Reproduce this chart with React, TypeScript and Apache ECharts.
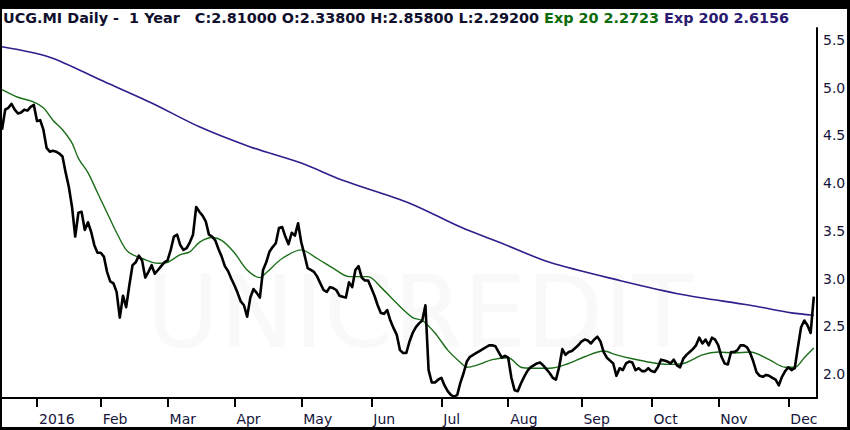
import React, { useEffect, useRef } from "react";
import * as echarts from "echarts";

// ---- categories: trading days (Borsa Italiana) ----
const START_DATE = "2015-12-14";
const CATEGORY_COUNT = 257;
const HOLIDAYS = ["2015-12-24", "2015-12-25", "2015-12-31", "2016-01-01", "2016-03-25", "2016-03-28"];
const MONTHS = ["Jan", "Feb", "Mar", "Apr", "May", "Jun", "Jul", "Aug", "Sep", "Oct", "Nov", "Dec"];

function buildDates(): string[] {
  const out: string[] = [];
  const d = new Date(START_DATE + "T00:00:00Z");
  while (out.length < CATEGORY_COUNT) {
    const s = d.toISOString().slice(0, 10);
    const wd = d.getUTCDay();
    if (wd !== 0 && wd !== 6 && HOLIDAYS.indexOf(s) < 0) out.push(s);
    d.setUTCDate(d.getUTCDate() + 1);
  }
  return out;
}
const dates = buildDates();

// ---- daily close ----
const closePrices = [
  4.56, 4.77, 4.79, 4.83, 4.77, 4.73, 4.74, 4.77, 4.76, 4.80,
  4.82, 4.65, 4.66, 4.56, 4.37, 4.33, 4.34, 4.33, 4.31, 4.28,
  4.11, 3.96, 3.75, 3.44, 3.69, 3.70, 3.51, 3.59, 3.49, 3.35,
  3.27, 3.27, 3.23, 3.07, 2.97, 2.95, 2.86, 2.59, 2.82, 2.70,
  2.93, 3.14, 3.17, 3.24, 3.19, 3.01, 3.07, 3.14, 3.05, 3.09,
  3.13, 3.17, 3.19, 3.30, 3.44, 3.46, 3.35, 3.30, 3.32, 3.38,
  3.46, 3.75, 3.70, 3.66, 3.60, 3.46, 3.44, 3.40, 3.31, 3.23,
  3.13, 3.08, 3.00, 2.93, 2.85, 2.76, 2.72, 2.60, 2.80, 2.89,
  2.85, 2.80, 3.09, 3.17, 3.28, 3.33, 3.37, 3.53, 3.54, 3.44,
  3.36, 3.48, 3.45, 3.58, 3.38, 3.25, 3.11, 3.09, 3.07, 3.02,
  2.95, 2.88, 2.86, 2.91, 2.90, 2.88, 2.82, 2.81, 2.80, 2.96,
  2.91, 3.09, 3.13, 3.01, 2.98, 2.98, 2.90, 2.82, 2.72, 2.64,
  2.63, 2.67, 2.56, 2.48, 2.41, 2.25, 2.22, 2.22, 2.34, 2.43,
  2.49, 2.53, 2.56, 2.72, 2.04, 1.91, 1.91, 1.94, 1.96, 1.88,
  1.82, 1.78, 1.76, 1.78, 1.91, 2.01, 2.13, 2.18, 2.20, 2.22,
  2.24, 2.26, 2.28, 2.30, 2.30, 2.29, 2.23, 2.17, 2.19, 2.17,
  1.96, 1.83, 1.82, 1.90, 1.97, 2.03, 2.07, 2.09, 2.11, 2.12,
  2.09, 2.05, 2.01, 1.96, 1.94, 2.07, 2.26, 2.20, 2.23, 2.24,
  2.27, 2.30, 2.34, 2.36, 2.35, 2.32, 2.36, 2.39, 2.34, 2.23,
  2.17, 2.14, 2.11, 1.98, 2.06, 2.04, 2.11, 2.13, 2.12, 2.04,
  2.06, 2.03, 2.03, 2.06, 2.03, 2.02, 2.07, 2.15, 2.14, 2.13,
  2.11, 2.15, 2.09, 2.07, 2.16, 2.20, 2.23, 2.26, 2.30, 2.38,
  2.32, 2.36, 2.30, 2.38, 2.36, 2.30, 2.18, 2.11, 2.10, 2.23,
  2.23, 2.25, 2.30, 2.30, 2.28, 2.22, 2.13, 2.02, 1.98, 1.97,
  1.99, 1.98, 1.96, 1.94, 1.88, 1.97, 2.03, 2.07, 2.04, 2.06,
  2.28, 2.49, 2.56, 2.51, 2.43, 2.81,
];

// ---- Exp 20 (read at vertices, by trading-day index) ----
const ema20Idx = [0, 5, 10, 13, 16, 19, 22, 24, 27, 30, 33, 36, 39, 41, 44, 49, 52, 56, 59, 62, 66, 69, 73, 77, 81, 83, 88, 94, 99, 104, 109, 115, 119, 124, 129, 132, 136, 140, 144, 146, 149, 154, 159, 163, 167, 172, 178, 183, 189, 193, 198, 204, 209, 214, 220, 225, 230, 235, 241, 246, 249, 252, 255];
const ema20Val = [4.98, 4.90, 4.85, 4.79, 4.66, 4.56, 4.42, 4.26, 4.11, 3.90, 3.69, 3.48, 3.30, 3.25, 3.21, 3.16, 3.17, 3.25, 3.28, 3.38, 3.43, 3.40, 3.27, 3.09, 3.01, 3.06, 3.21, 3.30, 3.21, 3.11, 3.02, 3.02, 2.91, 2.74, 2.59, 2.56, 2.43, 2.25, 2.12, 2.07, 2.09, 2.15, 2.17, 2.07, 2.06, 2.06, 2.11, 2.18, 2.24, 2.20, 2.16, 2.12, 2.10, 2.11, 2.20, 2.23, 2.22, 2.23, 2.15, 2.07, 2.07, 2.17, 2.2723];

// ---- Exp 200 ----
const ema200Idx = [0, 15, 31, 47, 62, 78, 94, 107, 128, 144, 157, 172, 194, 214, 235, 248, 255];
const ema200Val = [5.43, 5.32, 5.08, 4.84, 4.59, 4.38, 4.21, 4.03, 3.79, 3.54, 3.37, 3.17, 2.98, 2.83, 2.72, 2.64, 2.6156];

const yTicks = [2.0, 2.5, 3.0, 3.5, 4.0, 4.5, 5.0, 5.5];

const HEADER_MAIN = "UCG.MI Daily -  1 Year   C:2.81000 O:2.33800 H:2.85800 L:2.29200 ";
const HEADER_EXP20 = "Exp 20 2.2723 ";
const HEADER_EXP200 = "Exp 200 2.6156";

const FONT = "'DejaVu Sans', Verdana, sans-serif";

function isMonthStart(i: number): boolean {
  if (i <= 0 || i >= dates.length) return false;
  return dates[i].slice(5, 7) !== dates[i - 1].slice(5, 7);
}

export default function App() {
  const ref = useRef<HTMLDivElement>(null);
  useEffect(() => {
    document.body.style.margin = "0";
    if (!ref.current) return;
    const chart = echarts.init(ref.current, undefined, { renderer: "svg" });
    chart.setOption({
      animation: false,
      backgroundColor: "#ffffff",
      title: {
        text: `{a|${HEADER_MAIN}}{g|${HEADER_EXP20}}{p|${HEADER_EXP200}}`,
        left: 3,
        top: 11,
        padding: 0,
        textStyle: {
          rich: {
            a: { fontFamily: FONT, fontSize: 14.4, color: "#10102e" },
            g: { fontFamily: FONT, fontSize: 14.4, color: "#0b6b0b" },
            p: { fontFamily: FONT, fontSize: 14.4, color: "#2a1a72" },
          },
        },
      },
      grid: { left: 2, right: 33, top: 28, bottom: 32, containLabel: false },
      xAxis: {
        type: "category",
        data: dates,
        boundaryGap: false,
        axisLine: { show: true, onZero: false, lineStyle: { color: "#000", width: 2 } },
        axisTick: {
          show: true,
          length: 9,
          interval: (i: number) => isMonthStart(i),
          lineStyle: { color: "#000", width: 2 },
        },
        axisLabel: {
          interval: (i: number) => isMonthStart(i),
          align: "left",
          margin: 14,
          padding: [0, 0, 0, 2],
          fontFamily: FONT,
          fontSize: 14,
          color: "#15153a",
          formatter: (v: string) => {
            const m = parseInt(v.slice(5, 7), 10) - 1;
            return m === 0 ? v.slice(0, 4) : MONTHS[m];
          },
        },
        splitLine: { show: false },
      },
      yAxis: {
        type: "value",
        position: "right",
        min: 1.748,
        max: 5.626,
        axisLine: { show: true, lineStyle: { color: "#000", width: 2 } },
        axisTick: { show: false },
        splitLine: { show: false },
        axisLabel: {
          customValues: yTicks,
          margin: 6,
          fontFamily: FONT,
          fontSize: 14,
          color: "#15153a",
          formatter: (v: number) => v.toFixed(1),
        },
      },
      graphic: [
        {
          type: "text",
          z: 0,
          silent: true,
          style: {
            text: "UNICREDIT",
            x: 420,
            y: 312,
            align: "center",
            verticalAlign: "middle",
            font: "100px 'DejaVu Sans', sans-serif",
            fill: "#f9f9f9",
          },
        },
        { type: "rect", z: 100, shape: { x: 0, y: 0, width: 850, height: 9 }, style: { fill: "#000" } },
        { type: "rect", z: 100, shape: { x: 0, y: 0, width: 2, height: 430 }, style: { fill: "#000" } },
        { type: "rect", z: 100, shape: { x: 847, y: 0, width: 3, height: 430 }, style: { fill: "#000" } },
        { type: "rect", z: 100, shape: { x: 0, y: 427, width: 850, height: 3 }, style: { fill: "#000" } },
      ],
      series: [
        {
          name: "Exp 200",
          type: "line",
          data: ema200Idx.map((i, k) => [i, ema200Val[k]]),
          showSymbol: false,
          smooth: 0.3,
          lineStyle: { color: "#2d1f8c", width: 1.6 },
          z: 3,
        },
        {
          name: "Exp 20",
          type: "line",
          data: ema20Idx.map((i, k) => [i, ema20Val[k]]),
          showSymbol: false,
          smooth: 0.3,
          lineStyle: { color: "#1a6e1a", width: 1.4 },
          z: 4,
        },
        {
          name: "Close",
          type: "line",
          data: closePrices,
          showSymbol: false,
          lineStyle: { color: "#000000", width: 2.6, join: "round" },
          z: 5,
        },
      ],
    });
    return () => chart.dispose();
  }, []);
  return <div ref={ref} style={{ width: 850, height: 430 }} />;
}
